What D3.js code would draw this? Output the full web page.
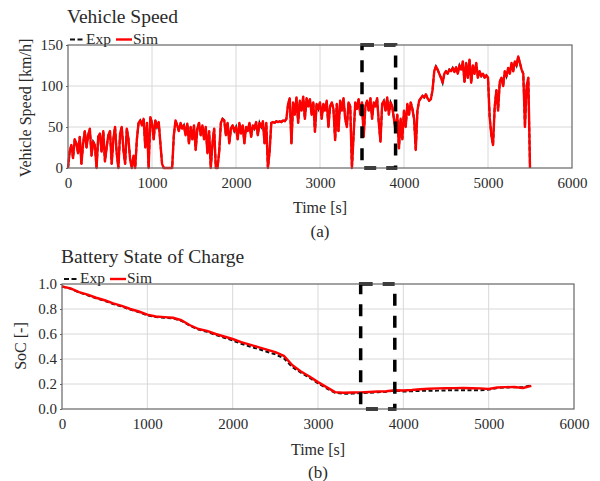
<!DOCTYPE html>
<html><head><meta charset="utf-8">
<script src="https://cdn.jsdelivr.net/npm/d3@7"></script>
<style>
body{margin:0;background:#fff}
svg{display:block}
text{font-family:"Liberation Serif","Times New Roman",serif;fill:#2a2a2a}
</style>
</head><body>
<svg id="c" width="600" height="481"></svg>
<script>
// ---------- data ----------
const xTicks = [0, 1000, 2000, 3000, 4000, 5000, 6000];
const speedTicks = [0, 50, 100, 150];
const socTicks = [0.0, 0.2, 0.4, 0.6, 0.8, 1.0];
const legendLabels = ["Exp", "Sim"];
const boxTime = [3500, 3900];

// vehicle speed sampled every 20 s, 0..5500 s
const speedTime = d3.range(0, 5501, 20);
const speedSim = [
  0, 20, 28, 12, 35, 30, 18, 38, 5, 30, 45, 25, 40, 48, 15, 32, 28, 0, 38, 42, 20, 45, 8, 25, 40,
  45, 5, 35, 50, 18, 0, 42, 50, 22, 5, 48, 35, 10, 0, 15, 0, 35, 55, 58, 52, 60, 25, 55, 0, 62,
  55, 35, 58, 50, 56, 30, 5, 0, 0, 0, 0, 0, 0, 40, 58, 52, 45, 55, 48, 52, 40, 54, 30, 50, 35,
  52, 22, 48, 55, 40, 52, 35, 50, 18, 45, 0, 30, 48, 0, 0, 20, 55, 60, 58, 40, 55, 30, 48, 52, 45,
  50, 35, 55, 42, 52, 30, 50, 45, 55, 38, 52, 48, 56, 40, 55, 50, 57, 30, 55, 0, 20, 55, 56, 55, 57,
  56, 57, 56, 58, 57, 60, 78, 85, 30, 80, 65, 86, 55, 82, 70, 87, 60, 85, 75, 84, 65, 80, 44, 78, 72,
  80, 60, 78, 70, 82, 50, 75, 80, 72, 34, 78, 45, 82, 70, 85, 60, 50, 80, 75, 0, 40, 80, 72, 84, 65,
  80, 38, 75, 82, 70, 85, 60, 80, 75, 85, 55, 32, 78, 82, 70, 86, 65, 80, 75, 60, 45, 65, 24, 60, 35,
  70, 50, 78, 65, 80, 72, 60, 22, 70, 82, 85, 88, 86, 90, 85, 82, 84, 95, 118, 124, 120, 115, 110, 104, 115,
  118, 115, 120, 118, 122, 117, 123, 115, 125, 120, 130, 105, 128, 110, 132, 104, 125, 115, 128, 110, 118, 112, 115, 110, 113,
  110, 62, 40, 28, 75, 95, 70, 105, 110, 100, 118, 112, 122, 115, 128, 118, 130, 125, 136, 128, 120, 115, 50, 100, 110, 0
];
const speedExp = speedSim.slice(); // measured trace lies under the simulated one

// battery state of charge sampled every 100 s, 0..5500 s
const socTime = d3.range(0, 5501, 100);
const socSim = [
  0.98, 0.965, 0.935, 0.915, 0.89, 0.87, 0.845, 0.825, 0.80, 0.78,
  0.755, 0.74, 0.735, 0.73, 0.71, 0.67, 0.64, 0.625, 0.60, 0.58,
  0.56, 0.535, 0.515, 0.495, 0.475, 0.455, 0.425, 0.35, 0.30, 0.26,
  0.215, 0.175, 0.135, 0.13, 0.132, 0.133, 0.136, 0.14, 0.142, 0.15,
  0.148, 0.152, 0.158, 0.162, 0.165, 0.166, 0.167, 0.168, 0.166, 0.165,
  0.16, 0.172, 0.175, 0.176, 0.168, 0.185
];
const socExp = [
  0.98, 0.962, 0.932, 0.91, 0.885, 0.865, 0.84, 0.82, 0.795, 0.775,
  0.75, 0.735, 0.73, 0.725, 0.705, 0.665, 0.635, 0.618, 0.592, 0.57,
  0.548, 0.522, 0.50, 0.48, 0.458, 0.437, 0.405, 0.335, 0.29, 0.25,
  0.205, 0.165, 0.13, 0.122, 0.123, 0.127, 0.13, 0.134, 0.138, 0.148,
  0.14, 0.142, 0.145, 0.146, 0.147, 0.149, 0.15, 0.15, 0.149, 0.15,
  0.155, 0.168, 0.172, 0.174, 0.175, 0.19
];

// ---------- drawing ----------
const svg = d3.select("#c");
const FONT = '"Liberation Serif", "Times New Roman", serif';

function panel(o) {
  const g = svg.append("g");
  const x = d3.scaleLinear().domain([0, 6000]).range([o.x0, o.x1]);
  const y = d3.scaleLinear().domain([o.yTicks[0], o.yTicks[o.yTicks.length - 1]]).range([o.y1, o.y0]);

  // grid
  g.append("g").selectAll("line").data(xTicks.slice(1, -1)).join("line")
    .attr("x1", d => x(d)).attr("x2", d => x(d)).attr("y1", o.y0).attr("y2", o.y1)
    .attr("stroke", "#d8d8d8").attr("stroke-width", 1);
  g.append("g").selectAll("line").data(o.yTicks.slice(1, -1)).join("line")
    .attr("y1", d => y(d)).attr("y2", d => y(d)).attr("x1", o.x0).attr("x2", o.x1)
    .attr("stroke", "#d8d8d8").attr("stroke-width", 1);

  // axes
  const xa = g.append("g").attr("transform", `translate(0,${o.y1})`)
    .call(d3.axisBottom(x).tickValues(xTicks).tickSize(0).tickFormat(d3.format("d")))
    .attr("font-family", FONT).attr("font-size", 15);
  xa.select(".domain").remove();
  xa.selectAll("text").attr("y", 20).attr("dy", null).attr("fill", "#2a2a2a");
  const ya = g.append("g").attr("transform", `translate(${o.x0},0)`)
    .call(d3.axisLeft(y).tickValues(o.yTicks).tickSize(2).tickPadding(3).tickFormat(o.fmt))
    .attr("font-family", FONT).attr("font-size", 15);
  ya.select(".domain").remove();
  ya.selectAll("line").attr("stroke", "#666");
  ya.selectAll("text").attr("fill", "#2a2a2a");

  // lines
  const lineGen = (ts) => d3.line().x((d, i) => x(ts[i])).y(d => y(d));
  g.append("path").datum(o.exp).attr("d", lineGen(o.time))
    .attr("fill", "none").attr("stroke", "#111").attr("stroke-width", 2)
    .attr("stroke-dasharray", "4,2.5");
  g.append("path").datum(o.sim).attr("d", lineGen(o.time))
    .attr("fill", "none").attr("stroke", "#f00").attr("stroke-width", 2.4)
    .attr("stroke-linejoin", "round");

  // dashed highlight box
  g.append("rect")
    .attr("x", x(boxTime[0])).attr("y", o.y0)
    .attr("width", x(boxTime[1]) - x(boxTime[0])).attr("height", o.y1 - o.y0)
    .attr("fill", "none").attr("stroke", "#000").attr("stroke-width", 3.5)
    .attr("stroke-dasharray", "12,10");

  // frame
  g.append("rect").attr("x", o.x0).attr("y", o.y0).attr("width", o.x1 - o.x0).attr("height", o.y1 - o.y0)
    .attr("fill", "none").attr("stroke", "#666").attr("stroke-width", 1.2);

  // title
  g.append("text").attr("x", o.x0 - 1).attr("y", o.titleY).attr("font-size", 19.5).text(o.title);

  // legend
  const ly = o.legendY;
  g.append("line").attr("x1", o.x0 + 2).attr("x2", o.x0 + 16).attr("y1", ly - 4).attr("y2", ly - 4)
    .attr("stroke", "#111").attr("stroke-width", 2).attr("stroke-dasharray", "5,2.5");
  g.append("text").attr("x", o.x0 + 18).attr("y", ly).attr("font-size", 15.5).text(legendLabels[0]);
  g.append("line").attr("x1", o.x0 + 48).attr("x2", o.x0 + 64).attr("y1", ly - 4).attr("y2", ly - 4)
    .attr("stroke", "#f00").attr("stroke-width", 2.4);
  g.append("text").attr("x", o.x0 + 65).attr("y", ly).attr("font-size", 15.5).text(legendLabels[1]);

  // axis labels
  g.append("text").attr("x", x(3000)).attr("y", o.xLabelY).attr("text-anchor", "middle")
    .attr("font-size", 16).text("Time [s]");
  g.append("text").attr("transform", `translate(${o.yLabelX},${o.yLabelCY}) rotate(-90)`)
    .attr("text-anchor", "middle").attr("dominant-baseline", "central")
    .attr("font-size", 16).text(o.yLabel);
  g.append("text").attr("x", x(3000)).attr("y", o.capY).attr("text-anchor", "middle")
    .attr("font-size", 17).attr("fill", "#555").text(o.caption);
}

panel({
  x0: 68, x1: 572, y0: 45, y1: 168,
  yTicks: speedTicks, fmt: d3.format("d"),
  time: speedTime, sim: speedSim, exp: speedExp,
  title: "Vehicle Speed", titleY: 23, legendY: 43.5,
  xLabelY: 213, yLabel: "Vehicle Speed [km/h]", yLabelX: 25, yLabelCY: 108,
  caption: "(a)", capY: 237
});

panel({
  x0: 62, x1: 574, y0: 284, y1: 409,
  yTicks: socTicks, fmt: d3.format(".1f"),
  time: socTime, sim: socSim, exp: socExp,
  title: "Battery State of Charge", titleY: 263, legendY: 283,
  xLabelY: 455, yLabel: "SoC [-]", yLabelX: 20, yLabelCY: 346,
  caption: "(b)", capY: 478
});
</script>
</body></html>
